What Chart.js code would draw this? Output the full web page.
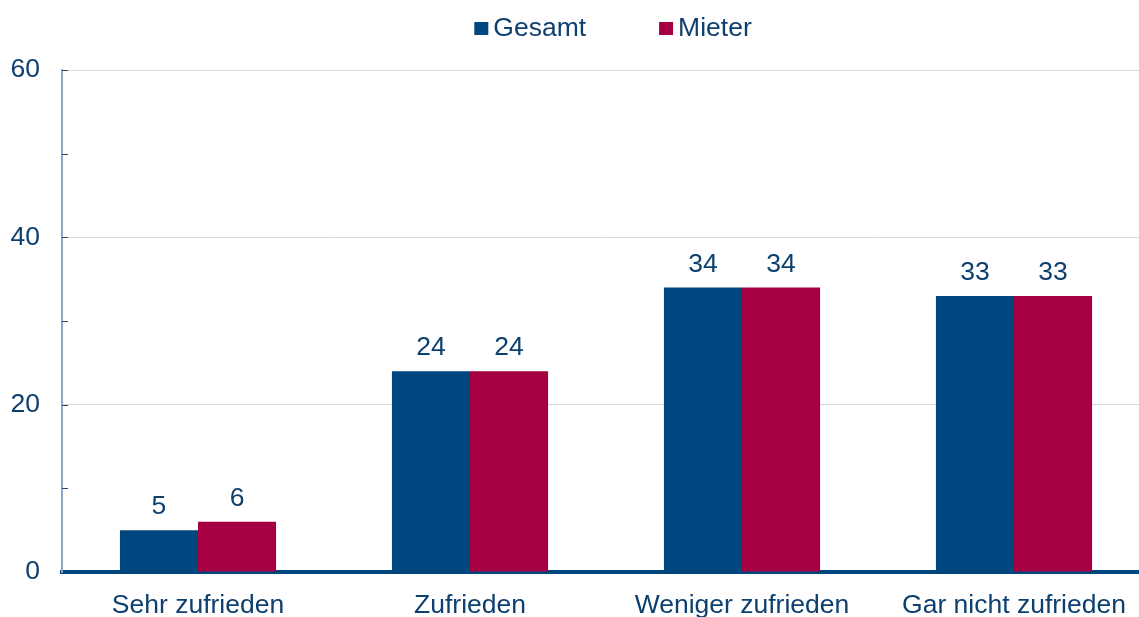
<!DOCTYPE html>
<html lang="de">
<head>
    <meta charset="UTF-8">
    <script src="https://cdn.jsdelivr.net/npm/chart.js"></script>
    <title>Zufriedenheit</title>
    <style>
        html, body { margin: 0; padding: 0; overflow: hidden; background: #fff; }
        .chart-box { width: 1150px; height: 617px; position: relative; }
    </style>
</head>
<body>
    <div class="chart-box">
        <canvas id="zufriedenChart"></canvas>
    </div>
    <script>
        const kategorien = ['Sehr zufrieden', 'Zufrieden', 'Weniger zufrieden', 'Gar nicht zufrieden'];
        const gesamt = [5, 24, 34, 33];
        const mieter = [6, 24, 34, 33];
        const yTicks = [0, 20, 40, 60];

        const textFarbe = '#0d3f6f';
        const schrift = 'Liberation Sans, Arial, sans-serif';

        // Werte ueber den Balken
        const werteLabels = {
            id: 'werteLabels',
            afterDatasetsDraw(chart) {
                const ctx = chart.ctx;
                ctx.save();
                ctx.fillStyle = textFarbe;
                ctx.font = '26.5px ' + schrift;
                ctx.textAlign = 'center';
                ctx.textBaseline = 'alphabetic';
                chart.data.datasets.forEach((ds, i) => {
                    chart.getDatasetMeta(i).data.forEach((bar, j) => {
                        ctx.fillText(ds.data[j], bar.x, bar.y - 16);
                    });
                });
                ctx.restore();
            }
        };

        // kleine Striche innen an der y-Achse
        const yStriche = {
            id: 'yStriche',
            afterDraw(chart) {
                const ctx = chart.ctx;
                const y = chart.scales.y;
                ctx.save();
                ctx.strokeStyle = '#1f4e79';
                ctx.lineWidth = 1;
                for (let v = 10; v <= 60; v += 10) {
                    const py = Math.round(y.getPixelForValue(v)) + 0.5;
                    ctx.beginPath();
                    ctx.moveTo(chart.chartArea.left, py);
                    ctx.lineTo(chart.chartArea.left + 6, py);
                    ctx.stroke();
                }
                ctx.restore();
            }
        };

        // Legende oben
        const legende = {
            id: 'legende',
            afterDraw(chart) {
                const ctx = chart.ctx;
                ctx.save();
                ctx.font = '26.5px ' + schrift;
                ctx.textBaseline = 'middle';
                const box = 14, abstand = 5, luecke = 73;
                const items = chart.data.datasets.map(ds => ({
                    text: ds.label, farbe: ds.backgroundColor, w: ctx.measureText(ds.label).width
                }));
                let gesamtBreite = items.reduce((s, it) => s + box + abstand + it.w, 0) + luecke * (items.length - 1);
                let x = (chart.chartArea.left + chart.chartArea.right) / 2 + 7 - gesamtBreite / 2;
                const yMitte = 29;
                items.forEach(it => {
                    ctx.fillStyle = it.farbe;
                    ctx.fillRect(x, yMitte - 7, box, 13);
                    ctx.fillStyle = textFarbe;
                    ctx.fillText(it.text, x + box + abstand, yMitte);
                    x += box + abstand + it.w + luecke;
                });
                ctx.restore();
            }
        };

        const ctxZ = document.getElementById('zufriedenChart').getContext('2d');
        const zufriedenChart = new Chart(ctxZ, {
            type: 'bar',
            data: {
                labels: kategorien,
                datasets: [{
                    label: 'Gesamt',
                    data: gesamt,
                    backgroundColor: '#00467f',
                    borderWidth: 0
                }, {
                    label: 'Mieter',
                    data: mieter,
                    backgroundColor: '#a50042',
                    borderWidth: 0
                }]
            },
            options: {
                responsive: true,
                maintainAspectRatio: false,
                animation: false,
                layout: { padding: { top: 70, right: 0, bottom: 0, left: 0 } },
                datasets: {
                    bar: { categoryPercentage: 0.574, barPercentage: 1.0 }
                },
                plugins: {
                    legend: { display: false },
                    tooltip: { enabled: false }
                },
                scales: {
                    x: {
                        afterFit(scale) { scale.height = 45; },
                        grid: { display: false, drawTicks: false },
                        border: { display: true, color: '#00467f', width: 4 },
                        ticks: {
                            color: textFarbe,
                            padding: 18,
                            maxRotation: 0,
                            font: { family: schrift, size: 26.5 }
                        }
                    },
                    y: {
                        min: 0,
                        max: 60,
                        afterFit(scale) { scale.width = 62; },
                        afterBuildTicks(scale) {
                            scale.ticks = yTicks.map(v => ({ value: v }));
                        },
                        grid: {
                            drawTicks: false,
                            color: ctx => ctx.tick && ctx.tick.value > 0 ? '#d9d9d9' : 'rgba(0,0,0,0)',
                            lineWidth: 1
                        },
                        border: { display: true, color: '#8aa7c6', width: 2 },
                        ticks: {
                            color: textFarbe,
                            padding: 22,
                            font: { family: schrift, size: 26.5 }
                        }
                    }
                }
            },
            plugins: [werteLabels, yStriche, legende]
        });
    </script>
</body>
</html>
